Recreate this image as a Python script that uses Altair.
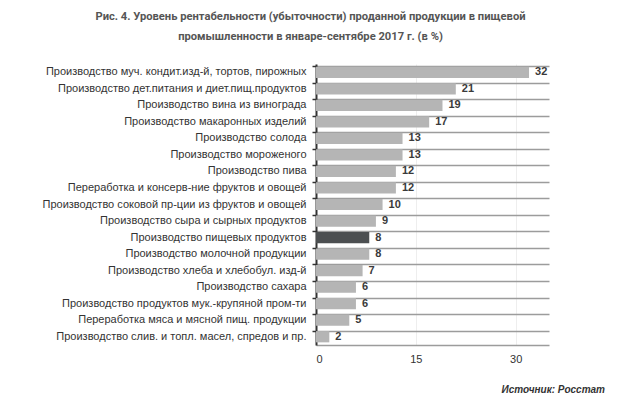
import altair as alt
import pandas as pd

categories = [
    "Производство муч. кондит.изд-й,  тортов, пирожных",
    "Производство дет.питания  и диет.пищ.продуктов",
    "Производство вина из винограда",
    "Производство макаронных изделий",
    "Производство солода",
    "Производство мороженого",
    "Производство пива",
    "Переработка и консерв-ние фруктов и овощей",
    "Производство соковой пр-ции из фруктов и овощей",
    "Производство сыра и сырных продуктов",
    "Производство пищевых продуктов",
    "Производство молочной продукции",
    "Производство хлеба и хлебобул. изд-й",
    "Производство сахара",
    "Производство продуктов мук.-крупяной пром-ти",
    "Переработка мяса и мясной пищ. продукции",
    "Производство слив. и топл. масел, спредов и пр.",
]
values = [32, 21, 19, 17, 13, 13, 12, 12, 10, 9, 8, 8, 7, 6, 6, 5, 2]
highlight = "Производство пищевых продуктов"
x_ticks = [0, 15, 30]
title_lines = [
    "Рис. 4. Уровень рентабельности (убыточности) проданной продукции в пищевой",
    "промышленности в январе-сентябре 2017 г. (в %)",
]
source_text = "Источник: Росстат"

df = pd.DataFrame({
    "cat": categories,
    "val": values,
    "hl": ["yes" if c == highlight else "no" for c in categories],
})

LABEL_FONT = "Liberation Sans"
TITLE_FONT = "Roboto"

y_enc = alt.Y(
    "cat:N", sort=categories, title=None,
    scale=alt.Scale(paddingInner=0.32, paddingOuter=0.16),
    axis=alt.Axis(
        bandPosition=0, grid=True, gridColor="#9c9c9c", gridWidth=1.5,
        domainColor="#333333", domainWidth=2, tickColor="#333333",
        tickWidth=1.5, tickSize=4, labelFontSize=11, labelColor="#333333",
        labelFont=LABEL_FONT, labelPadding=6, labelLimit=400,
    ),
)
x_enc = alt.X(
    "val:Q", title=None,
    scale=alt.Scale(domain=[0, 35], nice=False),
    axis=alt.Axis(
        values=x_ticks, grid=True, gridColor="#eeeeee", gridWidth=1,
        ticks=False, domainColor="#9c9c9c", domainWidth=1.5,
        labelFontSize=11, labelColor="#333333", labelFont=LABEL_FONT,
        labelPadding=8,
    ),
)

bars = alt.Chart(df).mark_bar().encode(
    y=y_enc, x=x_enc,
    color=alt.Color("hl:N", legend=None,
                    scale=alt.Scale(domain=["no", "yes"], range=["#b5b5b5", "#4c4f51"])),
)
labels = alt.Chart(df).mark_text(
    align="left", baseline="middle", dx=6, fontSize=11, fontWeight="bold",
    color="#3a3a3a", font=LABEL_FONT,
).encode(y=alt.Y("cat:N", sort=categories), x="val:Q", text="val:Q")

source = alt.Chart(pd.DataFrame({"t": [source_text]})).mark_text(
    align="right", baseline="middle", fontSize=10, fontStyle="italic",
    fontWeight="bold", color="#333333", font=LABEL_FONT,
).encode(x=alt.value(289), y=alt.value(326), text="t:N")

chart = alt.layer(bars, labels, source).properties(
    width=233, height=281,
    autosize=alt.AutoSizeParams(type="none"),
    padding={"left": 308, "top": 56, "right": 65, "bottom": 66},
    title=alt.TitleParams(
        text=title_lines, anchor="middle", dx=-122, fontSize=11.2,
        font=TITLE_FONT, fontWeight="bold", color="#555555",
        lineHeight=20, offset=22,
    ),
).configure_view(stroke=None)

chart.save("out.html", embed_options={"renderer": "svg", "actions": False})
